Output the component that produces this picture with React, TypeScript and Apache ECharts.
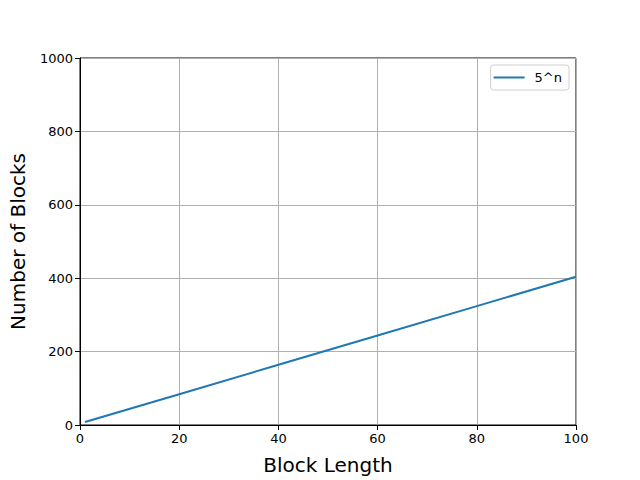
import React, { useEffect, useRef } from "react";
import * as echarts from "echarts";

const seriesName = "5^n";
const blockLength = [1, 20, 40, 60, 80, 100];
const numberOfBlocks = [8, 84, 164, 244, 324, 404];
const xTicks = [0, 20, 40, 60, 80, 100];
const yTicks = [0, 200, 400, 600, 800, 1000];

export default function App() {
  const ref = useRef<HTMLDivElement>(null);
  useEffect(() => {
    const chart = echarts.init(ref.current!, null, { renderer: "svg" });
    const font = "DejaVu Sans";
    chart.setOption({
      animation: false,
      backgroundColor: "#ffffff",
      grid: {
        left: 80,
        right: 64,
        top: 58,
        bottom: 53,
        show: true,
        borderColor: "#000000",
        borderWidth: 1,
        backgroundColor: "transparent",
      },
      legend: {
        data: [seriesName],
        right: 71,
        top: 65,
        orient: "vertical",
        backgroundColor: "#ffffff",
        borderColor: "#d0d0d0",
        borderWidth: 1,
        borderRadius: 3,
        padding: [6, 7, 6, 3],
        itemWidth: 31,
        itemHeight: 2,
        itemGap: 6,
        icon: "rect",
        textStyle: { fontFamily: font, fontSize: 13, color: "#000", padding: [0, 0, 0, 5] },
      },
      xAxis: {
        type: "value",
        min: 0,
        max: 100,
        interval: 20,
        name: "Block Length",
        nameLocation: "middle",
        nameGap: 30,
        nameTextStyle: { fontFamily: font, fontSize: 20, color: "#000" },
        axisLine: { show: true, lineStyle: { color: "#000" } },
        axisTick: { show: true, length: 5, lineStyle: { color: "#000" } },
        axisLabel: {
          fontFamily: font,
          fontSize: 13,
          color: "#000",
          margin: 7,
          formatter: (v: number) => (xTicks.includes(v) ? String(v) : ""),
        },
        splitLine: { show: true, lineStyle: { color: "#b0b0b0", width: 1 } },
      },
      yAxis: {
        type: "value",
        min: 0,
        max: 1000,
        interval: 200,
        name: "Number of Blocks",
        nameLocation: "middle",
        nameGap: 52,
        nameTextStyle: { fontFamily: font, fontSize: 20, color: "#000" },
        axisLine: { show: true, lineStyle: { color: "#000" } },
        axisTick: { show: true, length: 5, lineStyle: { color: "#000" } },
        axisLabel: {
          fontFamily: font,
          fontSize: 13,
          color: "#000",
          margin: 7,
          formatter: (v: number) => (yTicks.includes(v) ? String(v) : ""),
        },
        splitLine: { show: true, lineStyle: { color: "#b0b0b0", width: 1 } },
      },
      series: [
        {
          name: seriesName,
          type: "line",
          data: blockLength.map((x, i) => [x, numberOfBlocks[i]]),
          showSymbol: false,
          symbol: "none",
          lineStyle: { color: "#1f77b4", width: 2 },
          itemStyle: { color: "#1f77b4" },
          clip: false,
        },
      ],
    });
    return () => chart.dispose();
  }, []);
  return <div ref={ref} style={{ width: 640, height: 480, position: "absolute", left: 0, top: 0 }} />;
}
